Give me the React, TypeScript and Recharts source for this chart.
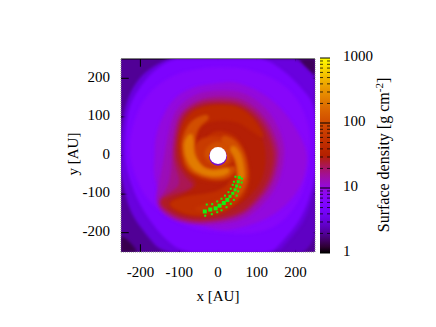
import { ScatterChart, Scatter, XAxis, YAxis, ReferenceLine, ReferenceDot, ReferenceArea } from "recharts";

// iso-density outlines of the disc in AU, outer ones first
const outerBand = [[130, -256], [256, -256], [256, -30], [225, -120], [190, -190]];
const envelope = [[-115, 258], [60, 255], [255, 255], [255, 60], [255, -50], [232, -160], [180, -224], [150, -255], [0, -255], [-142, -255], [-185, -206], [-228, -146], [-247, -68], [-256, 2], [-247, 80], [-237, 140], [-211, 192], [-176, 227]];
const discEdge = [[-105, 258], [112, 258], [173, 218], [216, 175], [250, 132], [254, 30], [250, -69], [216, -164], [164, -224], [134, -256], [-81, -256], [-142, -215], [-202, -130], [-232, -52], [-241, 2], [-238, 71], [-228, 132], [-198, 183], [-163, 222]];
const cornerRight = [[190, 266], [266, 266], [266, 190]];
const cornerLeft = [[-262, -190], [-190, -262], [-270, -270]];
const haloOuter = [[0, 229], [69, 227], [147, 201], [207, 149], [238, 70], [236, 0], [232, -50], [210, -120], [160, -180], [90, -205], [10, -200], [-64, -190], [-133, -160], [-185, -112], [-215, -52], [-228, 0], [-228, 45], [-206, 123], [-168, 175], [-107, 214], [-38, 227]];
const haloInner = [[0, 188], [43, 192], [112, 166], [173, 114], [216, 45], [233, -2], [220, -69], [186, -120], [130, -164], [52, -190], [0, -195], [-55, -176], [-107, -150], [-150, -100], [-167, -50], [-163, 0], [-163, 37], [-150, 88], [-116, 149], [-64, 179]];
const ringA = [[0, 170], [70, 165], [135, 115], [172, 35], [170, -25], [150, -85], [110, -135], [60, -172], [-38, -182], [-115, -172], [-165, -130], [-150, -60], [-140, -10], [-130, 50], [-112, 120], [-60, 160]];
const ringB = [[0, 155], [65, 150], [125, 100], [158, 28], [157, -22], [140, -78], [102, -125], [58, -162], [-38, -178], [-112, -166], [-162, -125], [-130, -85], [-120, -40], [-120, 5], [-115, 60], [-100, 112], [-52, 146]];
const ringC = [[0, 145], [62, 140], [118, 94], [150, 24], [150, -20], [134, -74], [98, -120], [57, -156], [-38, -174], [-110, -162], [-160, -120], [-122, -95], [-95, -75], [-110, -30], [-115, 0], [-109, 57], [-95, 109], [-50, 139]];
const redCore = [[0, 137], [60, 132], [112, 88], [142, 19], [142, -20], [128, -70], [95, -115], [57, -150], [-38, -170], [-106, -158], [-155, -122], [-124, -102], [-80, -92], [-60, -78], [-85, -55], [-100, -30], [-110, 0], [-103, 54], [-90, 106], [-47, 132]];
const redInner = [[0, 128], [55, 122], [100, 80], [126, 15], [118, -60], [85, -105], [45, -135], [-35, -160], [-100, -150], [-135, -122], [-80, -98], [-50, -75], [-75, -45], [-92, 0], [-90, 50], [-70, 100], [-35, 125]];
const armOne = [[122, 40], [104, 84], [60, 126], [0, 133], [-60, 122], [-92, 85], [-103, 40], [-100, 0], [-88, -38], [-55, -62], [0, -72], [40, -62], [62, -38], [30, -22], [0, -38], [-42, -25], [-58, 0], [-58, 45], [-42, 80], [0, 92], [52, 88], [90, 60]];
const armTwo = [[0, 66], [43, 54], [68, 20], [78, -15], [84, -55], [76, -95], [52, -125], [15, -148], [-35, -158], [-90, -152], [-135, -125], [-90, -105], [-38, -100], [0, -92], [26, -76], [40, -45], [40, -15], [22, 15], [0, 28], [-25, 30], [-28, 52]];
const innerDisc = [[0, 50], [30, 42], [48, 15], [42, -15], [25, -30], [0, -40], [-30, -32], [-62, -5], [-62, 28], [-38, 48]];
const innerRing = [[0, 38], [25, 28], [35, 5], [25, -20], [0, -30], [-28, -15], [-38, 10], [-20, 30]];
const armOneBright = [[-30, 110], [-75, 88], [-95, 40], [-93, 0], [-80, -37], [-45, -58], [0, -65], [32, -58], [52, -30], [28, -26], [0, -40], [-40, -26], [-56, 0], [-60, 40], [-50, 75], [-20, 95]];
const armOneRidge = [[-68, 62], [-88, 40], [-88, 5], [-72, -32], [-40, -52], [0, -57], [32, -46], [28, -30], [-5, -38], [-35, -34], [-54, -12], [-63, 10], [-62, 40]];
const armTwoBright = [[10, 55], [42, 44], [66, 14], [76, -25], [78, -60], [66, -95], [46, -118], [38, -100], [48, -75], [48, -40], [44, -10], [28, 20], [8, 30]];
const armTwoRidge = [[40, 30], [60, 6], [68, -30], [70, -65], [52, -65], [50, -25], [40, 0], [28, 16]];
const tailGlow = [[45, -85], [54, -112], [30, -134], [-15, -148], [-75, -140], [-15, -122], [25, -105]];

const contourShapes = [outerBand, envelope, discEdge, cornerRight, cornerLeft, haloOuter, haloInner, ringA, ringB, ringC, redCore, redInner, armOne, armTwo, tailGlow, innerDisc, innerRing, armOneBright, armTwoBright, armOneRidge, armTwoRidge];
const contourDensity = [2.6, 3.2, 5.2, 1.5, 1.4, 6.9, 10, 13, 17, 22, 27, 31, 42, 50, 60, 70, 105, 105, 105, 230, 215];
const baseDensity = 2.0;

const starX = [-34, -20, -6, 4, 15, 24, 31, 38, 44, 48, 52, 55, -33, -16, -2, 9, 22, 33, 41, 48, 52, 57, 61, 62, -29, -15, -2, 9, 18, 27, 33, 38, 41, 45];
const starY = [-145, -140, -137, -130, -123, -115, -106, -98, -89, -79, -68, -57, -156, -152, -147, -142, -134, -125, -115, -104, -93, -82, -70, -60, -127, -126, -119, -112, -104, -95, -86, -76, -68, -55];
const starMass = [4, 4, 4, 4, 4, 4, 3, 3, 3, 3, 3, 3, 2, 2, 2, 2, 2, 2, 2, 2, 2, 2, 2, 2, 2, 2, 2, 2, 2, 2, 2, 2, 2, 2];

const axisTicks = [-200, -100, 0, 100, 200];
const barTicks = [1, 10, 100, 1000];
const barMinorTicks = [2, 3, 4, 5, 6, 7, 8, 9, 20, 30, 40, 50, 60, 70, 80, 90, 200, 300, 400, 500, 600, 700, 800, 900];

const serif = "'Liberation Serif', 'Times New Roman', serif";
const tickStyle = { fill: "#000", fontFamily: serif, fontSize: 15 };
const yTickStyle = { ...tickStyle, dy: -2 };

// gnuplot's default 7,5,15 palette on a log scale from 1 to 1000
function palette(t: number) {
  const r = Math.sqrt(t);
  const g = t * t * t;
  const b = Math.max(0, Math.sin(2 * Math.PI * t));
  return `rgb(${Math.round(r * 255)},${Math.round(g * 255)},${Math.round(b * 255)})`;
}
const densityColor = (sigma: number) => palette(Math.log10(sigma) / 3);

const stars = starX.map((x, i) => ({ x, y: starY[i], mass: starMass[i] }));
const barStops = Array.from({ length: 33 }, (_, i) => i / 32);
const barEnds = [{ x: 0, y: 1 }, { x: 1, y: 1000 }];

// closed smooth path through the scaled outline points
function closedPath(pts: { x: number; y: number }[]) {
  const mid = (a: any, b: any) => `${(a.x + b.x) / 2} ${(a.y + b.y) / 2}`;
  let d = `M${mid(pts[pts.length - 1], pts[0])}`;
  pts.forEach((p, i) => {
    d += ` Q${p.x} ${p.y} ${mid(p, pts[(i + 1) % pts.length])}`;
  });
  return d + "Z";
}

const NoMark = () => null;

function StarMark(props: any) {
  const s = props.payload.mass;
  return <rect x={props.cx - s / 2} y={props.cy - s / 2} width={s} height={s} fill="#12f012" />;
}

function YLabel() {
  return (
    <text x={75} y={154} transform="rotate(-90 75 154)" textAnchor="middle" dominantBaseline="middle" fontFamily={serif} fontSize={15} fill="#000">
      y [AU]
    </text>
  );
}

function XLabel() {
  return (
    <text x={218} y={298} textAnchor="middle" dominantBaseline="middle" fontFamily={serif} fontSize={15} fill="#000">
      x [AU]
    </text>
  );
}

function BarLabel() {
  return (
    <text x={385} y={155} transform="rotate(-90 385 155)" textAnchor="middle" dominantBaseline="middle" fontFamily={serif} fontSize={16} fill="#000">
      Surface density [g cm
      <tspan dy={-5} fontSize={11}>-2</tspan>
      <tspan dy={5}>]</tspan>
    </text>
  );
}

function tickLines(pos: number) {
  return [
    <ReferenceLine key={`b${pos}`} segment={[{ x: pos, y: -250 }, { x: pos, y: -230 }]} stroke="#000" ifOverflow="visible" />,
    <ReferenceLine key={`t${pos}`} segment={[{ x: pos, y: 250 }, { x: pos, y: 230 }]} stroke="#000" ifOverflow="visible" />,
    <ReferenceLine key={`l${pos}`} segment={[{ x: -250, y: pos }, { x: -230, y: pos }]} stroke="#000" ifOverflow="visible" />,
    <ReferenceLine key={`r${pos}`} segment={[{ x: 250, y: pos }, { x: 230, y: pos }]} stroke="#000" ifOverflow="visible" />,
  ];
}

function barTick(v: number, len: number, opacity: number) {
  return [
    <ReferenceLine key={`a${v}`} yAxisId="bar" segment={[{ x: 0, y: v }, { x: len, y: v }]} stroke="#000" strokeOpacity={opacity} ifOverflow="visible" />,
    <ReferenceLine key={`z${v}`} yAxisId="bar" segment={[{ x: 1, y: v }, { x: 1 - len, y: v }]} stroke="#000" strokeOpacity={opacity} ifOverflow="visible" />,
  ];
}

export default function App() {
  return (
    <div style={{ position: "absolute", left: 0, top: 0, width: 436, height: 327, background: "#fff" }}>
      <style>{`.heat { filter: blur(1.4px); }`}</style>
      <div style={{ position: "absolute", left: 0, top: 0 }}>
        <ScatterChart width={436} height={327} margin={{ top: 59, right: 121, bottom: 35, left: 61 }}>
          <defs>
            <clipPath id="plotClip">
              <rect x={121} y={59} width={194} height={193} />
            </clipPath>
          </defs>
          <XAxis type="number" dataKey="x" domain={[-250, 250]} ticks={axisTicks} allowDataOverflow tick={tickStyle} tickLine={false} axisLine={false} tickMargin={8} height={40} interval={0} label={XLabel} />
          <YAxis type="number" dataKey="y" domain={[-250, 250]} ticks={axisTicks} allowDataOverflow tick={yTickStyle} tickLine={false} axisLine={false} tickMargin={5} width={60} interval={0} label={YLabel} />
          <ReferenceArea x1={-250} x2={250} y1={-250} y2={250} fill={densityColor(baseDensity)} fillOpacity={1} stroke="none" />
          {contourShapes.map((shape, i) => (
            <Scatter
              key={i}
              data={shape.map(([x, y]) => ({ x, y }))}
              shape={NoMark}
              className="heat"
              isAnimationActive={false}
              line={(p: any) => <path d={closedPath(p.points)} fill={densityColor(contourDensity[i])} stroke="none" clipPath="url(#plotClip)" />}
            />
          ))}
          <ReferenceLine segment={[{ x: 0, y: -140 }, { x: 0, y: 140 }]} stroke="#ffb060" strokeOpacity={0.18} />
          <ReferenceLine segment={[{ x: -150, y: 0 }, { x: 150, y: 0 }]} stroke="#ffb060" strokeOpacity={0.18} />
          <ReferenceDot x={0} y={-3} r={9} fill="#7a10c8" stroke="none" ifOverflow="visible" />
          <ReferenceDot x={0} y={0} r={8.4} fill="#fff" stroke="none" ifOverflow="visible" />
          <Scatter data={stars} shape={StarMark} isAnimationActive={false} />
          <ReferenceLine segment={[{ x: -250, y: 250 }, { x: 250, y: 250 }]} stroke="#000" ifOverflow="visible" />
          <ReferenceLine segment={[{ x: -250, y: -250 }, { x: 250, y: -250 }]} stroke="#888" strokeDasharray="1 1" ifOverflow="visible" />
          <ReferenceLine segment={[{ x: -250, y: -250 }, { x: -250, y: 250 }]} stroke="#888" strokeDasharray="1 1" ifOverflow="visible" />
          <ReferenceLine segment={[{ x: 250, y: -250 }, { x: 250, y: 250 }]} stroke="#888" strokeDasharray="1 1" ifOverflow="visible" />
          {axisTicks.flatMap(tickLines)}
        </ScatterChart>
      </div>
      <div style={{ position: "absolute", left: 0, top: 0 }}>
        <ScatterChart width={436} height={327} margin={{ top: 58, right: 56, bottom: 74, left: 320 }}>
          <defs>
            <linearGradient id="densityBar" x1="0" y1="1" x2="0" y2="0">
              {barStops.map((t) => (
                <stop key={t} offset={t} stopColor={palette(t)} />
              ))}
            </linearGradient>
          </defs>
          <XAxis type="number" dataKey="x" domain={[0, 1]} hide />
          <YAxis type="number" dataKey="y" yAxisId="bar" orientation="right" scale="log" domain={[1, 1000]} ticks={barTicks} tick={yTickStyle} tickLine={false} axisLine={false} tickMargin={7} width={50} interval={0} label={BarLabel} />
          <Scatter yAxisId="bar" data={barEnds} shape={NoMark} isAnimationActive={false} />
          <ReferenceArea yAxisId="bar" x1={0} x2={1} y1={1} y2={1000} fill="url(#densityBar)" fillOpacity={1} stroke="none" ifOverflow="visible" />
          {barTicks.flatMap((v) => barTick(v, 0.5, 1))}
          {barMinorTicks.flatMap((v) => barTick(v, 0.3, 0.75))}
        </ScatterChart>
      </div>
    </div>
  );
}
